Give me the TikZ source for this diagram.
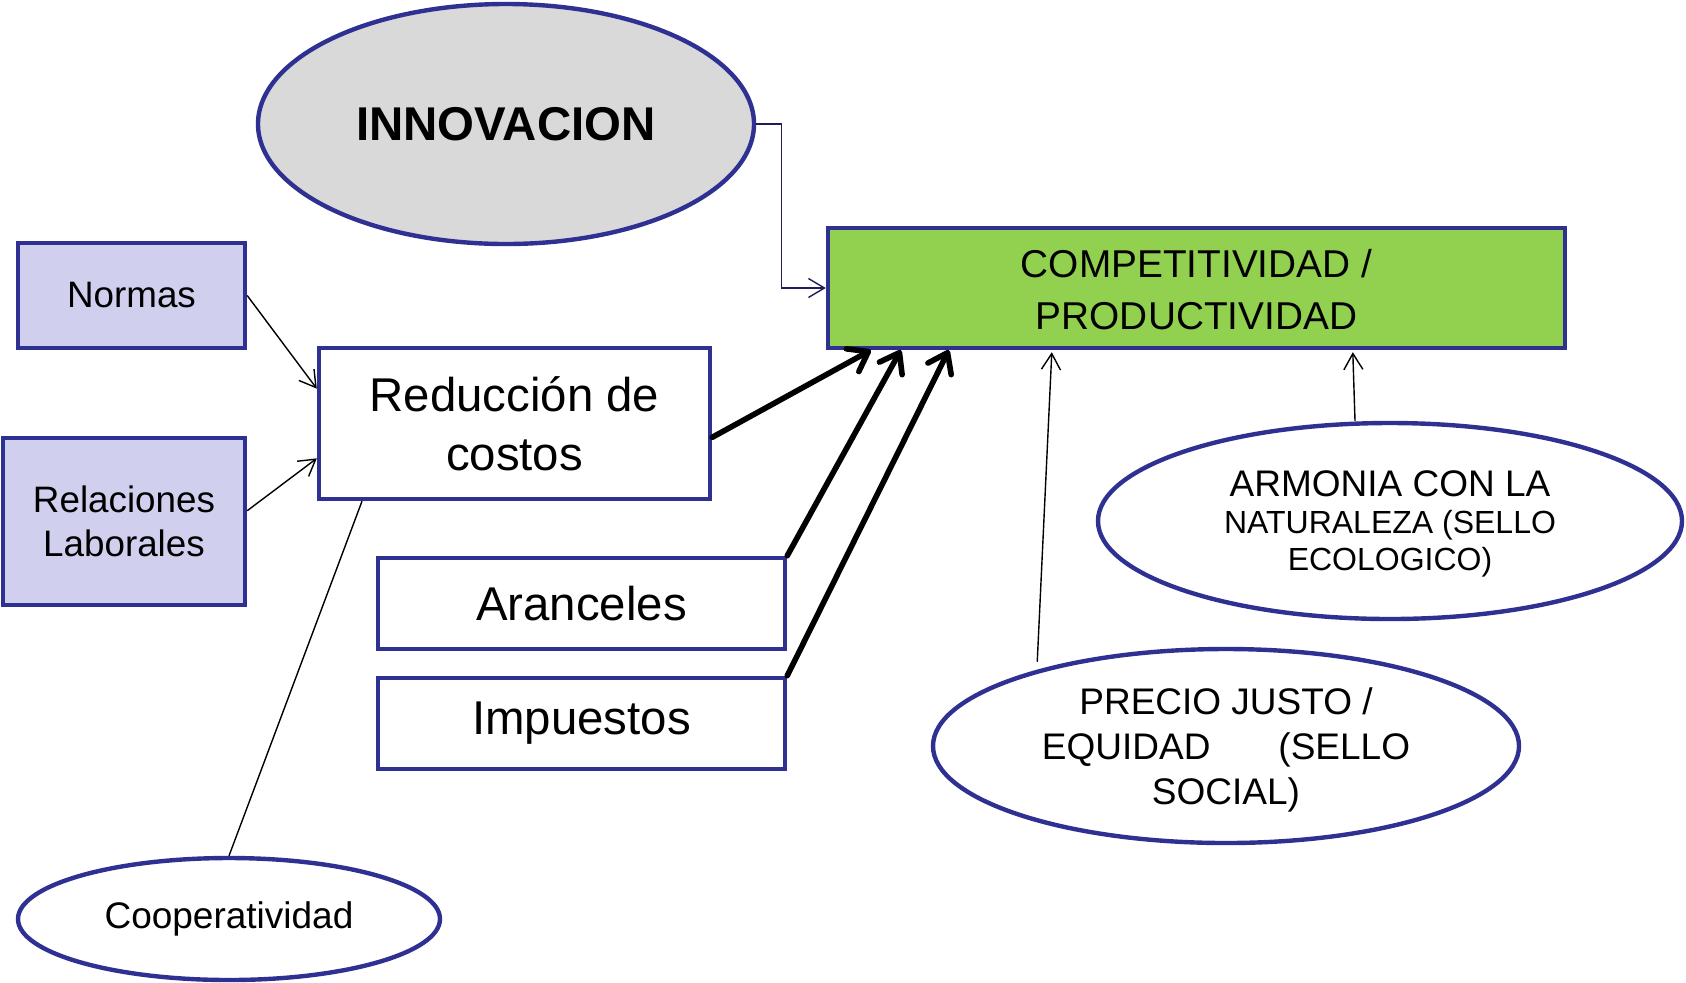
\documentclass[tikz,border=0pt]{standalone}
\usepackage{fontspec}
\setmainfont{Liberation Sans}
\usetikzlibrary{shapes.geometric,arrows.meta,calc}
\definecolor{navy}{RGB}{46,49,146}
\definecolor{darknavy}{RGB}{30,28,90}
\definecolor{lavender}{RGB}{208,208,238}
\definecolor{leaf}{RGB}{146,208,80}
\definecolor{cloud}{RGB}{217,217,217}
\begin{document}
\begin{tikzpicture}[x=0.5pt,y=-0.5pt,
	box/.style={draw=navy,line width=2.2pt,rectangle,inner sep=0pt,align=center},
	oval/.style={draw=navy,line width=2.2pt,ellipse,inner sep=0pt,align=center},
	thinarr/.style={line width=0.7pt,-{Straight Barb[length=8pt,width=9.5pt]}},
	thickarr/.style={line width=2.8pt,line cap=round,-{Straight Barb[round,length=9pt,width=13pt]}}]
			\useasboundingbox (0,0) rectangle (1686,982);
			\node[oval,fill=cloud,minimum width=248pt,minimum height=120pt,font=\fontsize{23.7}{28}\selectfont\bfseries] (innov) at (506,124) {INNOVACION};
			\node[box,fill=leaf,minimum width=368.5pt,minimum height=60pt,font=\fontsize{19.4}{26}\selectfont] (comp) at (1196.5,288) {\rule{0pt}{16pt}COMPETITIVIDAD /\\PRODUCTIVIDAD};
			\node[box,fill=lavender,minimum width=113.5pt,minimum height=52.5pt,font=\fontsize{18.4}{22}\selectfont] (normas) at (131.5,295.5) {Normas};
			\node[box,fill=lavender,minimum width=121pt,minimum height=83.5pt,font=\fontsize{18.4}{22}\selectfont] (relac) at (124,521.5) {Relaciones\\Laborales};
			\node[box,minimum width=195.5pt,minimum height=75.5pt,font=\fontsize{23.7}{29.5}\selectfont] (reduc) at (514.5,423.5) {Reducción de\\costos};
			\node[box,minimum width=203.5pt,minimum height=45.5pt,font=\fontsize{23.7}{28}\selectfont] (aranc) at (581.5,603.5) {Aranceles};
			\node[box,minimum width=203.5pt,minimum height=45.5pt,font=\fontsize{23.7}{28}\selectfont] (impue) at (581.5,723.5) {Impuestos};
			\node[oval,minimum width=292pt,minimum height=98pt,font=\fontsize{16}{18.5}\selectfont] (armonia) at (1390,521) {{\fontsize{18.5}{22}\selectfont\rule{0pt}{16pt}ARMONIA CON LA}\\NATURALEZA (SELLO\\ECOLOGICO)};
			\node[oval,minimum width=293pt,minimum height=97pt,font=\fontsize{18.5}{22.5}\selectfont] (precio) at (1226,746) {\rule{0pt}{17pt}PRECIO JUSTO /\\EQUIDAD\hspace{34pt}(SELLO\\SOCIAL)};
			\node[oval,minimum width=211pt,minimum height=61pt,font=\fontsize{18.5}{22}\selectfont] (coop) at (229,919) {Cooperatividad};
			% links into the central box
			\draw[thinarr,darknavy] (innov.east) -- ++(25,0) |- (comp.west);
			\draw[thinarr] (normas.east) -- (reduc.170);
			\draw[thinarr] (relac.5) -- (reduc.190);
			\draw[line width=0.7pt] (reduc.207) -- (coop.north);
			\draw[thickarr] (reduc.-4) -- ($(comp.south west)+(45,0)$);
			\draw[thickarr] (aranc.north east) -- ($(comp.south west)+(75,0)$);
			\draw[thickarr] (impue.north east) -- ($(comp.south west)+(123,0)$);
			\draw[thinarr] ($(precio.158)+(0,-8)$) -- ($(comp.south west)+(226,2)$);
			\draw[thinarr] ($(armonia.north)+(-35,0)$) -- ($(comp.south west)+(527,2)$);
		\end{tikzpicture}
\end{document}
